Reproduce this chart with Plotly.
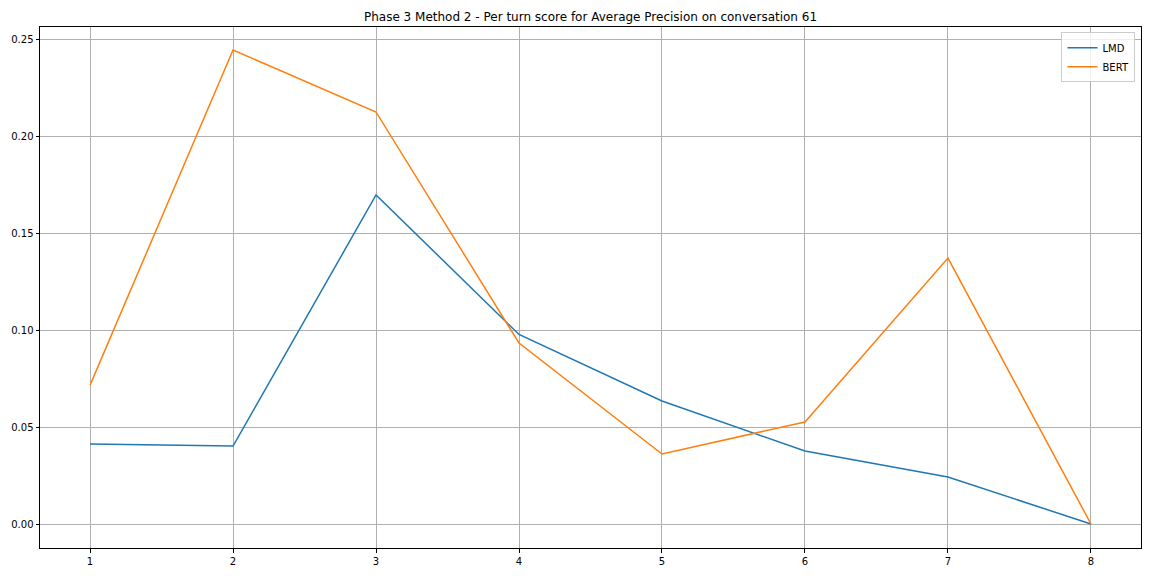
import plotly.graph_objects as go

turns = [1, 2, 3, 4, 5, 6, 7, 8]
lmd = [0.0412, 0.0402, 0.1696, 0.0977, 0.0634, 0.0376, 0.0242, 0.0]
bert = [0.0716, 0.2443, 0.2124, 0.0933, 0.0361, 0.0526, 0.1371, 0.0]
y_ticks = [0.00, 0.05, 0.10, 0.15, 0.20, 0.25]

fig = go.Figure()
fig.add_trace(go.Scatter(x=turns, y=lmd, mode="lines", name="LMD",
                         line=dict(color="#1f77b4", width=1.5)))
fig.add_trace(go.Scatter(x=turns, y=bert, mode="lines", name="BERT",
                         line=dict(color="#ff7f0e", width=1.5)))

fig.update_layout(
    width=1152, height=576,
    margin=dict(l=32, r=19, t=19, b=36),
    paper_bgcolor="white", plot_bgcolor="white",
    font=dict(family="DejaVu Sans", size=10, color="black"),
    title=dict(text="Phase 3 Method 2 - Per turn score for Average Precision on conversation 61",
               x=(40 + 1141) / 2 / 1152 - 8 / 1152, xanchor="center", y=1 - 9/576, yanchor="middle",
               font=dict(size=12, color="black")),
    showlegend=True,
    legend=dict(x=0.995, y=0.99, xanchor="right", yanchor="top",
                bgcolor="rgba(255,255,255,0.8)", bordercolor="#cccccc", borderwidth=1,
                font=dict(size=10), itemwidth=30, tracegroupgap=0),
)
fig.update_xaxes(range=[0.65, 8.35], tickvals=turns, ticktext=[str(t) for t in turns],
                 showgrid=True, gridcolor="#b0b0b0", gridwidth=1, automargin=False,
                 showline=True, linecolor="black", linewidth=1, mirror=True,
                 ticks="outside", ticklen=3.5, tickcolor="black", zeroline=False)
fig.update_yaxes(range=[-0.01237, 0.2562], tickvals=y_ticks,
                 ticktext=[f"{v:.2f}" for v in y_ticks],
                 showgrid=True, gridcolor="#b0b0b0", gridwidth=1, automargin=False,
                 showline=True, linecolor="black", linewidth=1, mirror=True,
                 ticks="outside", ticklen=3.5, tickcolor="black", zeroline=False)

fig.write_html("out.html")
